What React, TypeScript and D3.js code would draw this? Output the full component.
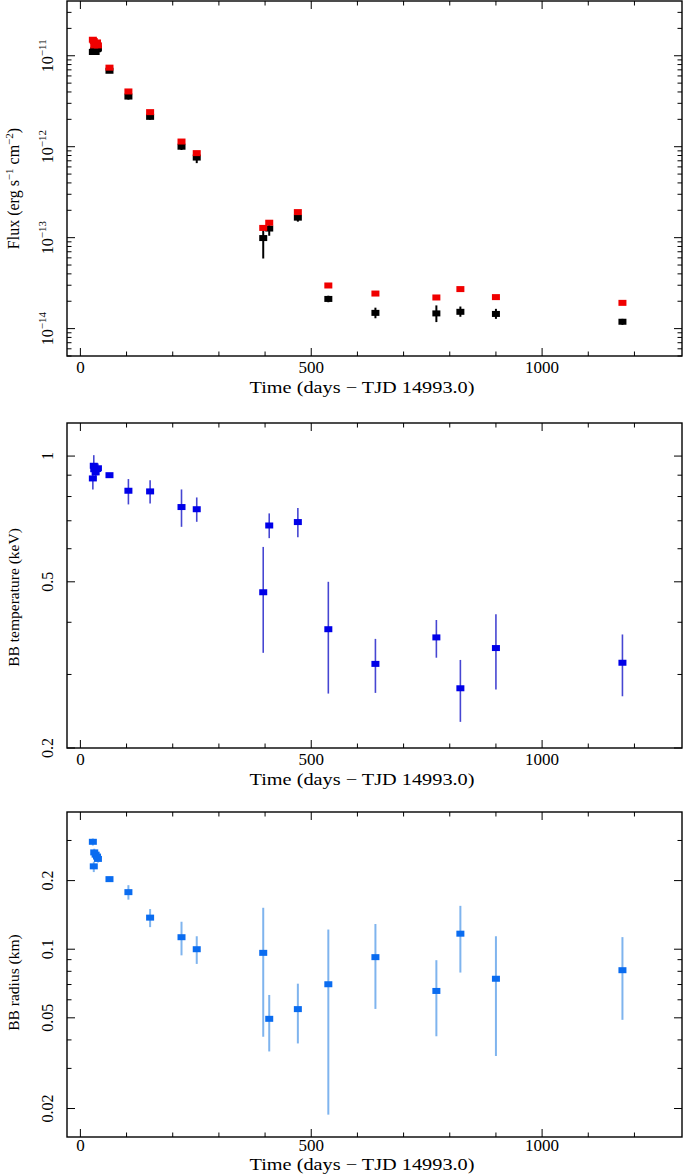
import * as d3 from 'd3';

// Observation times (days since TJD 14993.0)
const times = [27, 29, 30, 33, 36, 38, 63, 104, 151, 219, 252, 396, 409, 471, 537, 639, 771, 823, 900, 1174];

// Panel 1: flux (erg s^-1 cm^-2)
const fluxRed = [1.5e-11, 1.45e-11, 1.3e-11, 1.35e-11, 1.4e-11, 1.3e-11, 7.4e-12, 4.05e-12, 2.4e-12, 1.14e-12, 8.5e-13, 1.28e-13, 1.46e-13, 1.91e-13, 2.98e-14, 2.43e-14, 2.2e-14, 2.72e-14, 2.22e-14, 1.92e-14];
const fluxBlack = [1.1e-11, 1.12e-11, 1.15e-11, 1.1e-11, 1.18e-11, 1.2e-11, 6.84e-12, 3.56e-12, 2.13e-12, 1.0e-12, 7.6e-13, 9.9e-14, 1.26e-13, 1.66e-13, 2.12e-14, 1.49e-14, 1.47e-14, 1.53e-14, 1.45e-14, 1.19e-14];
const fluxBlackLo = [1.03e-11, 1.05e-11, 1.08e-11, 1.03e-11, 1.1e-11, 1.12e-11, 6.5e-12, 3.3e-12, 1.98e-12, 9.2e-13, 6.6e-13, 5.9e-14, 1.05e-13, 1.5e-13, 1.95e-14, 1.3e-14, 1.18e-14, 1.35e-14, 1.28e-14, 1.1e-14];
const fluxBlackHi = [1.18e-11, 1.2e-11, 1.22e-11, 1.18e-11, 1.25e-11, 1.28e-11, 7.2e-12, 3.8e-12, 2.28e-12, 1.08e-12, 8.4e-13, 1.2e-13, 1.45e-13, 1.82e-13, 2.3e-14, 1.7e-14, 1.8e-14, 1.75e-14, 1.65e-14, 1.28e-14];

// Panel 2: BB temperature (keV)
const temp = [0.884, 0.948, 0.93, 0.914, 0.931, 0.935, 0.9, 0.826, 0.823, 0.755, 0.746, 0.472, 0.682, 0.695, 0.385, 0.318, 0.368, 0.278, 0.347, 0.32];
const tempLo = [0.832, 0.9, 0.9, 0.88, 0.9, 0.91, 0.89, 0.766, 0.77, 0.677, 0.696, 0.338, 0.636, 0.639, 0.27, 0.271, 0.329, 0.231, 0.276, 0.266];
const tempHi = [0.93, 1.005, 0.96, 0.95, 0.96, 0.96, 0.91, 0.881, 0.875, 0.832, 0.796, 0.606, 0.729, 0.751, 0.5, 0.365, 0.405, 0.325, 0.418, 0.374];

// Panel 3: BB radius (km)
const radius = [0.296, 0.231, 0.266, 0.26, 0.255, 0.249, 0.203, 0.178, 0.1376, 0.1129, 0.1, 0.0964, 0.0495, 0.0546, 0.0702, 0.0923, 0.0656, 0.117, 0.0742, 0.0809];
const radiusLo = [0.285, 0.218, 0.256, 0.25, 0.245, 0.24, 0.198, 0.165, 0.125, 0.094, 0.0862, 0.0413, 0.0356, 0.0386, 0.0188, 0.0547, 0.0415, 0.079, 0.034, 0.049];
const radiusHi = [0.306, 0.242, 0.276, 0.27, 0.265, 0.258, 0.208, 0.191, 0.15, 0.132, 0.114, 0.152, 0.063, 0.0706, 0.122, 0.129, 0.0895, 0.155, 0.114, 0.113];

// Axis ticks
const xMajor = [0, 500, 1000];
const xMinor = [100, 200, 300, 400, 600, 700, 800, 900, 1100, 1200];
const fluxMajor = [1e-14, 1e-13, 1e-12, 1e-11];
const tempMajor = [0.2, 0.5, 1];
const tempMinor = [0.3, 0.4, 0.6, 0.7, 0.8, 0.9];
const radiusMajor = [0.02, 0.05, 0.1, 0.2];
const radiusMinor = [0.03, 0.04, 0.06, 0.07, 0.08, 0.09, 0.3];

const W = 683;
const H = 1174;
const LEFT = 67;
const RIGHT = 682;
const FONT = '"Liberation Serif", "DejaVu Serif", serif';

const x = d3.scaleLinear().domain([-29, 1303]).range([LEFT, RIGHT]);

function fluxMinor() {
  const out: number[] = [];
  for (let e = -15; e <= -11; e++) {
    for (let k = 2; k <= 9; k++) {
      const v = k * Math.pow(10, e);
      if (v > 5e-15 && v < 4e-11) out.push(v);
    }
  }
  return out;
}

function Frame({ y, top, bottom, major, minor }: any) {
  const M = 8;
  const m = 4.5;
  return (
    <g stroke="#000" strokeWidth={1}>
      {xMajor.map(t => (
        <g key={'xM' + t}>
          <line x1={x(t)} x2={x(t)} y1={bottom} y2={bottom - M} />
          <line x1={x(t)} x2={x(t)} y1={top} y2={top + M} />
        </g>
      ))}
      {xMinor.map(t => (
        <g key={'xm' + t}>
          <line x1={x(t)} x2={x(t)} y1={bottom} y2={bottom - m} />
          <line x1={x(t)} x2={x(t)} y1={top} y2={top + m} />
        </g>
      ))}
      {major.map((t: number) => (
        <g key={'yM' + t}>
          <line x1={LEFT} x2={LEFT + M} y1={y(t)} y2={y(t)} />
          <line x1={RIGHT} x2={RIGHT - M} y1={y(t)} y2={y(t)} />
        </g>
      ))}
      {minor.map((t: number) => (
        <g key={'ym' + t}>
          <line x1={LEFT} x2={LEFT + m} y1={y(t)} y2={y(t)} />
          <line x1={RIGHT} x2={RIGHT - m} y1={y(t)} y2={y(t)} />
        </g>
      ))}
      <rect x={LEFT} y={top} width={RIGHT - LEFT} height={bottom - top} fill="none" strokeWidth={1.4} />
    </g>
  );
}

function XLabels({ bottom, tickGap = 17, gap = 37 }: { bottom: number; tickGap?: number; gap?: number }) {
  return (
    <g fontFamily={FONT} fill="#000">
      {xMajor.map(t => (
        <text key={t} x={x(t)} y={bottom + tickGap} fontSize={17} textAnchor="middle">{t}</text>
      ))}
      <text x={362} y={bottom + gap} fontSize={17} textAnchor="middle" textLength={225} lengthAdjust="spacingAndGlyphs">
        Time (days − TJD 14993.0)
      </text>
    </g>
  );
}

function Points({ y, vals, lo, hi, fill, err, errW, w = 8, h = 6 }: any) {
  return (
    <g>
      {lo && times.map((t, i) => (
        <line key={'e' + i} x1={x(t)} x2={x(t)} y1={y(lo[i])} y2={y(hi[i])} stroke={err} strokeWidth={errW} />
      ))}
      {times.map((t, i) => (
        <rect key={'p' + i} x={x(t) - w / 2} y={y(vals[i]) - h / 2} width={w} height={h} fill={fill} />
      ))}
    </g>
  );
}

export default function App() {
  // Panel 1
  const t1 = 1, b1 = 356;
  const yFlux = d3.scaleLog().domain([5e-15, 4e-11]).range([b1, t1]);
  // Panel 2
  const t2 = 423, b2 = 748;
  const yTemp = d3.scaleLog().domain([0.2, 1.2]).range([b2, t2]);
  // Panel 3
  const t3 = 812, b3 = 1137;
  const yRad = d3.scaleLog().domain([0.015, 0.4]).range([b3, t3]);

  const ylabX = 19;
  const ytickX = 53;

  return (
    <svg width={W} height={H} style={{ position: 'absolute', left: 0, top: 0, background: '#fff' }} fontFamily={FONT}>
      <rect width={W} height={H} fill="#fff" />

      {/* Panel 1: flux */}
      <Frame y={yFlux} top={t1} bottom={b1} major={fluxMajor} minor={fluxMinor()} />
      <Points y={yFlux} vals={fluxBlack} lo={fluxBlackLo} hi={fluxBlackHi} fill="#000" err="#000" errW={2} w={8} h={6} />
      <Points y={yFlux} vals={fluxRed} fill="#f00000" w={8} h={6} />
      {fluxMajor.map(v => (
        <text key={v} transform={`translate(${ytickX},${yFlux(v)}) rotate(-90)`} textAnchor="middle" fontSize={16}>
          10<tspan dy={-7} fontSize={11}>{'−' + Math.abs(Math.round(Math.log10(v)))}</tspan>
        </text>
      ))}
      <text transform={`translate(${ylabX},${(t1 + b1) / 2 + 10}) rotate(-90)`} textAnchor="middle" fontSize={16}>
        Flux (erg s<tspan dy={-6} fontSize={11}>−1</tspan><tspan dy={6}> cm</tspan><tspan dy={-6} fontSize={11}>−2</tspan><tspan dy={6}>)</tspan>
      </text>
      <XLabels bottom={b1} />

      {/* Panel 2: temperature */}
      <Frame y={yTemp} top={t2} bottom={b2} major={tempMajor} minor={tempMinor} />
      <Points y={yTemp} vals={temp} lo={tempLo} hi={tempHi} fill="#0000e8" err="#4646d2" errW={1.6} />
      {tempMajor.map(v => (
        <text key={v} transform={`translate(${ytickX},${yTemp(v)}) rotate(-90)`} textAnchor="middle" fontSize={16}>{v}</text>
      ))}
      <text transform={`translate(${ylabX},${(t2 + b2) / 2 + 12}) rotate(-90)`} textAnchor="middle" fontSize={15.5}>
        BB temperature (keV)
      </text>
      <XLabels bottom={b2} />

      {/* Panel 3: radius */}
      <Frame y={yRad} top={t3} bottom={b3} major={radiusMajor} minor={radiusMinor} />
      <Points y={yRad} vals={radius} lo={radiusLo} hi={radiusHi} fill="#0a6cf0" err="#7fb4ee" errW={2} />
      {radiusMajor.map(v => (
        <text key={v} transform={`translate(${ytickX},${yRad(v)}) rotate(-90)`} textAnchor="middle" fontSize={16}>{v}</text>
      ))}
      <text transform={`translate(${ylabX},${(t3 + b3) / 2 + 8}) rotate(-90)`} textAnchor="middle" fontSize={15.5}>
        BB radius (km)
      </text>
      <XLabels bottom={b3} tickGap={14} gap={33} />
    </svg>
  );
}
